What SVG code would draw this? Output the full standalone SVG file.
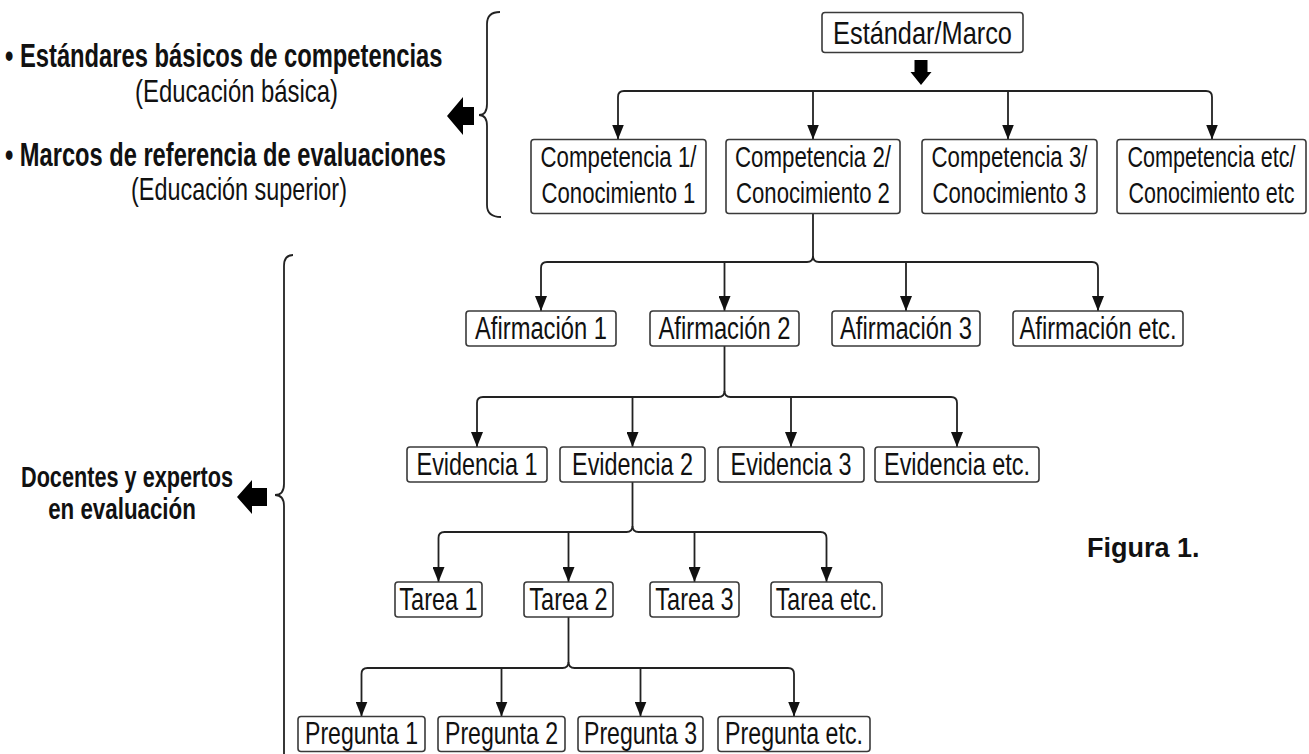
<svg xmlns="http://www.w3.org/2000/svg" width="1309" height="754" viewBox="0 0 1309 754">
<defs>
<style>
.box{fill:#fff;stroke:#3a3a3a;stroke-width:1.6}
.t{font-family:"Liberation Sans",Arial,sans-serif;font-size:31px;fill:#111;text-anchor:middle}
.t2{font-family:"Liberation Sans",Arial,sans-serif;font-size:29px;fill:#111;text-anchor:middle}
.tl{font-family:"Liberation Sans",Arial,sans-serif;font-size:33px;fill:#111;font-weight:bold}
.tb{font-family:"Liberation Sans",Arial,sans-serif;font-size:29px;fill:#111;font-weight:bold;text-anchor:middle}
.fig{font-family:"Liberation Sans",Arial,sans-serif;font-size:27px;fill:#111;font-weight:bold}
.c{fill:none;stroke:#222;stroke-width:1.8}
.a{marker-end:url(#ah)}
.blk{fill:#000}
.br{fill:none;stroke:#222;stroke-width:1.8}
</style>
<marker id="ah" markerUnits="userSpaceOnUse" markerWidth="15" markerHeight="12" refX="15" refY="6" orient="auto">
<path d="M0,0 L15,6 L0,12 z" fill="#111"/>
</marker>
</defs>
<rect width="1309" height="754" fill="#fff"/>

<g id="left-labels">
<text class="tl" transform="translate(5,67) scale(0.72,1)">• Estándares básicos de competencias</text>
<text class="t" transform="translate(236.5,102) scale(0.77,1)">(Educación básica)</text>
<text class="tl" transform="translate(5,166) scale(0.717,1)">• Marcos de referencia de evaluaciones</text>
<text class="t" transform="translate(239,200) scale(0.755,1)">(Educación superior)</text>
<polygon class="blk" points="447,116 463,97 463,107 474,107 474,125 463,125 463,135"/>
<path class="br" d="M500,12 Q487,12 487,24 L487,104 Q487,115 479,115 Q487,115 487,126 L487,205 Q487,217 501,217"/>
</g>

<g id="bottom-labels">
<text class="tb" transform="translate(127,487) scale(0.748,1)">Docentes y expertos</text>
<text class="tb" transform="translate(122,519) scale(0.77,1)">en evaluación</text>
<polygon class="blk" points="237,497 252,480 252,488 267,488 267,506 252,506 252,514"/>
<path class="br" d="M293,255 Q284,255 284,266 L284,484 Q284,495 275,495 Q284,495 284,506 L284,760"/>
</g>

<g id="figura">
<text class="fig" x="1087" y="557">Figura 1.</text>
</g>

<g id="connectors">
<polygon class="blk" points="914.5,60 927.5,60 927.5,72 931.5,72 921,85 910.5,72 914.5,72"/>
<path class="c a" d="M921,91 L624,91 Q618,91 618,97 L618,139.5"/>
<path class="c a" d="M921,91 L1206,91 Q1212,91 1212,97 L1212,139.5"/>
<path class="c a" d="M813,91 L813,139.5"/>
<path class="c a" d="M1008,91 L1008,139.5"/>

<path class="c a" d="M813,214 L813,256 Q813,262 807,262 L547,262 Q541,262 541,268 L541,311"/>
<path class="c a" d="M813,256 Q813,262 819,262 L1092,262 Q1098,262 1098,268 L1098,311"/>
<path class="c a" d="M724.5,262 L724.5,311"/>
<path class="c a" d="M906,262 L906,311"/>

<path class="c a" d="M724.5,346 L724.5,391 Q724.5,397 718.5,397 L483,397 Q477,397 477,403 L477,447"/>
<path class="c a" d="M724.5,391 Q724.5,397 730.5,397 L951,397 Q957,397 957,403 L957,447"/>
<path class="c a" d="M632.5,397 L632.5,447"/>
<path class="c a" d="M791,397 L791,447"/>

<path class="c a" d="M632.5,482 L632.5,526 Q632.5,532 626.5,532 L444.5,532 Q438.5,532 438.5,538 L438.5,582"/>
<path class="c a" d="M632.5,526 Q632.5,532 638.5,532 L820.5,532 Q826.5,532 826.5,538 L826.5,582"/>
<path class="c a" d="M568.5,532 L568.5,582"/>
<path class="c a" d="M694.5,532 L694.5,582"/>

<path class="c a" d="M568.5,617 L568.5,662 Q568.5,668 562.5,668 L367.5,668 Q361.5,668 361.5,674 L361.5,716.5"/>
<path class="c a" d="M568.5,662 Q568.5,668 574.5,668 L788,668 Q794,668 794,674 L794,716.5"/>
<path class="c a" d="M501.5,668 L501.5,716.5"/>
<path class="c a" d="M640.5,668 L640.5,716.5"/>
</g>

<g id="n-estandar"><rect class="box" x="822" y="12.5" width="201" height="40" rx="3"/><text class="t" transform="translate(922.5,43.5) scale(0.818,1)">Estándar/Marco</text></g>

<g id="n-comp1"><rect class="box" x="531" y="139.5" width="175" height="74" rx="3"/><text class="t2" transform="translate(618.5,167) scale(0.768,1)">Competencia 1/</text><text class="t2" transform="translate(618.5,203) scale(0.764,1)">Conocimiento 1</text></g>
<g id="n-comp2"><rect class="box" x="726" y="139.5" width="174" height="74" rx="3"/><text class="t2" transform="translate(813,167) scale(0.768,1)">Competencia 2/</text><text class="t2" transform="translate(813,203) scale(0.764,1)">Conocimiento 2</text></g>
<g id="n-comp3"><rect class="box" x="922" y="139.5" width="175" height="74" rx="3"/><text class="t2" transform="translate(1009.5,167) scale(0.768,1)">Competencia 3/</text><text class="t2" transform="translate(1009.5,203) scale(0.764,1)">Conocimiento 3</text></g>
<g id="n-competc"><rect class="box" x="1117" y="139.5" width="189" height="74" rx="3"/><text class="t2" transform="translate(1211.5,167) scale(0.745,1)">Competencia etc/</text><text class="t2" transform="translate(1211.5,203) scale(0.741,1)">Conocimiento etc</text></g>

<g id="n-af1"><rect class="box" x="466" y="311" width="150" height="35" rx="3"/><text class="t" transform="translate(541,338.5) scale(0.766,1)">Afirmación 1</text></g>
<g id="n-af2"><rect class="box" x="650" y="311" width="149" height="35" rx="3"/><text class="t" transform="translate(724.5,338.5) scale(0.766,1)">Afirmación 2</text></g>
<g id="n-af3"><rect class="box" x="832" y="311" width="148" height="35" rx="3"/><text class="t" transform="translate(906,338.5) scale(0.766,1)">Afirmación 3</text></g>
<g id="n-afetc"><rect class="box" x="1013" y="311" width="170" height="35" rx="3"/><text class="t" transform="translate(1098,338.5) scale(0.766,1)">Afirmación etc.</text></g>

<g id="n-ev1"><rect class="box" x="407" y="447" width="140" height="35" rx="3"/><text class="t" transform="translate(477,474.5) scale(0.755,1)">Evidencia 1</text></g>
<g id="n-ev2"><rect class="box" x="560" y="447" width="145" height="35" rx="3"/><text class="t" transform="translate(632.5,474.5) scale(0.755,1)">Evidencia 2</text></g>
<g id="n-ev3"><rect class="box" x="718" y="447" width="146" height="35" rx="3"/><text class="t" transform="translate(791,474.5) scale(0.755,1)">Evidencia 3</text></g>
<g id="n-evetc"><rect class="box" x="875" y="447" width="164" height="35" rx="3"/><text class="t" transform="translate(957,474.5) scale(0.757,1)">Evidencia etc.</text></g>

<g id="n-t1"><rect class="box" x="395" y="582" width="87" height="35" rx="3"/><text class="t" transform="translate(438.5,609.5) scale(0.758,1)">Tarea 1</text></g>
<g id="n-t2"><rect class="box" x="524" y="582" width="89" height="35" rx="3"/><text class="t" transform="translate(568.5,609.5) scale(0.758,1)">Tarea 2</text></g>
<g id="n-t3"><rect class="box" x="650" y="582" width="89" height="35" rx="3"/><text class="t" transform="translate(694.5,609.5) scale(0.758,1)">Tarea 3</text></g>
<g id="n-tetc"><rect class="box" x="771" y="582" width="111" height="35" rx="3"/><text class="t" transform="translate(826.5,609.5) scale(0.745,1)">Tarea etc.</text></g>

<g id="n-p1"><rect class="box" x="298" y="716.5" width="127" height="35" rx="3"/><text class="t" transform="translate(361.5,744) scale(0.745,1)">Pregunta 1</text></g>
<g id="n-p2"><rect class="box" x="438" y="716.5" width="127" height="35" rx="3"/><text class="t" transform="translate(501.5,744) scale(0.745,1)">Pregunta 2</text></g>
<g id="n-p3"><rect class="box" x="578" y="716.5" width="125" height="35" rx="3"/><text class="t" transform="translate(640.5,744) scale(0.745,1)">Pregunta 3</text></g>
<g id="n-petc"><rect class="box" x="718" y="716.5" width="152" height="35" rx="3"/><text class="t" transform="translate(794,744) scale(0.748,1)">Pregunta etc.</text></g>
</svg>
